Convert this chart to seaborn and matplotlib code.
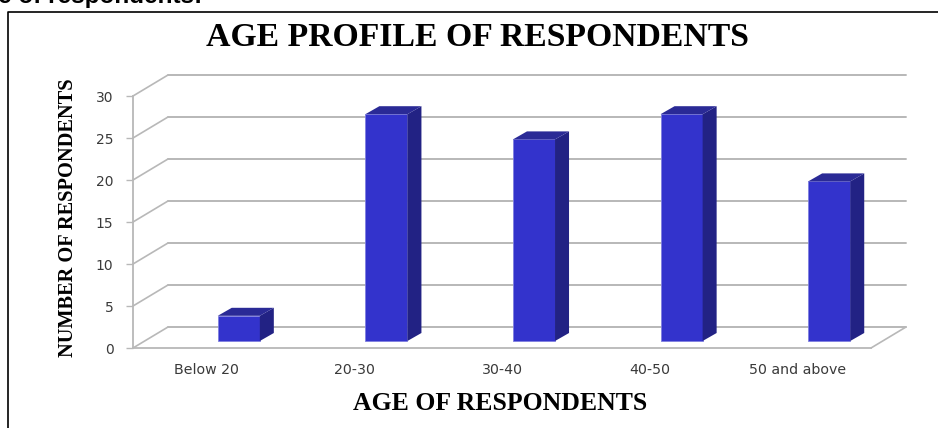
import matplotlib
matplotlib.use('Agg')
import matplotlib.pyplot as plt
from matplotlib.lines import Line2D
from matplotlib.patches import Polygon
import pandas as pd
import seaborn as sns

age_groups = ['Below 20', '20-30', '30-40', '40-50', '50 and above']
respondents = [3, 27, 24, 27, 19]
y_ticks = [0, 5, 10, 15, 20, 25, 30]

W, H = 938, 428
# front plane of the fake 3d box, in pixels
LEFT, RIGHT, BOTTOM, TOP = 133, 871, 348, 96

sns.set_theme(style='white')
plt.rcParams['font.family'] = ['DejaVu Sans']

fig = plt.figure(figsize=(W / 100, H / 100), dpi=100)
ax = fig.add_axes([LEFT / W, 1 - BOTTOM / H, (RIGHT - LEFT) / W, (BOTTOM - TOP) / H])

df = pd.DataFrame({'age': age_groups, 'n': respondents})
sns.barplot(data=df, x='age', y='n', ax=ax, color='#3333CC', saturation=1, width=0.285, zorder=5)
ax.set_xlim(-0.5, 4.5)
ax.set_ylim(0, 30)

px_x = (RIGHT - LEFT) / 5
px_y = (BOTTOM - TOP) / 30

# box depth, then how far the bars sit inside it, then the depth of a bar
box_dx, box_dy = 35 / px_x, 21 / px_y
shift_x, shift_y = 32 / px_x, 7 / px_y
bar_dx, bar_dy = 14 / px_x, 8 / px_y

grid = '#B8B8B8'
for v in y_ticks:
    ax.plot([-0.5, -0.5 + box_dx], [v, v + box_dy], color=grid, lw=1.2, clip_on=False, zorder=2)
    ax.plot([-0.5 + box_dx, 4.5 + box_dx], [v + box_dy, v + box_dy], color=grid, lw=1.4, clip_on=False, zorder=2)
ax.plot([4.5, 4.5 + box_dx], [0, box_dy], color=grid, lw=1.2, clip_on=False, zorder=2)

for bar in ax.patches:
    x0, w, h = bar.get_x() + shift_x, bar.get_width(), bar.get_height()
    bar.set_x(x0)
    bar.set_y(shift_y)
    bar.set_clip_on(False)
    bar.set_edgecolor('#7F7FE0')
    bar.set_linewidth(0.6)
    y0, y1 = shift_y, shift_y + h
    side = [(x0 + w, y0), (x0 + w + bar_dx, y0 + bar_dy), (x0 + w + bar_dx, y1 + bar_dy), (x0 + w, y1)]
    top = [(x0, y1), (x0 + bar_dx, y1 + bar_dy), (x0 + w + bar_dx, y1 + bar_dy), (x0 + w, y1)]
    ax.add_patch(Polygon(side, closed=True, fc='#222284', ec='none', clip_on=False, zorder=6))
    ax.add_patch(Polygon(top, closed=True, fc='#2A2A96', ec='none', clip_on=False, zorder=6))

sns.despine(ax=ax, top=True, right=True)
for s in ['left', 'bottom']:
    ax.spines[s].set_color(grid)
    ax.spines[s].set_linewidth(1.3)
ax.set_yticks(y_ticks)
ax.tick_params(axis='y', left=True, length=5, width=1, color=grid, pad=9, labelsize=10, labelcolor='#3A3A3A')
ax.tick_params(axis='x', bottom=False, pad=5, labelsize=10.2, labelcolor='#3A3A3A')
ax.set_xlabel('')
ax.set_ylabel('')

serif = ['Liberation Serif', 'DejaVu Serif']
fig.text(477 / W, 1 - 37 / H, 'AGE PROFILE OF RESPONDENTS', family=serif, weight='bold', fontsize=24.3,
         ha='center', va='center', color='black')
fig.text(500 / W, 1 - 404 / H, 'AGE OF RESPONDENTS', family=serif, weight='bold', fontsize=18.5,
         ha='center', va='center', color='black')
fig.text(68 / W, 1 - 218 / H, 'NUMBER OF RESPONDENTS', family=serif, weight='bold', fontsize=14.7,
         rotation=90, ha='center', va='center', color='black')
fig.text(-2 / W, 1 - 3 / H, 'e of respondents:', family=['Liberation Sans', 'DejaVu Sans'], weight='bold', fontsize=17.5,
         ha='left', va='baseline', color='black')

# only the top and left edges of the pasted chart's frame are in the crop
fig.add_artist(Line2D([7.5 / W, 7.5 / W, 1], [0, 1 - 11.5 / H, 1 - 11.5 / H], color='black', lw=1.2))

fig.savefig('out.png', dpi=100)
